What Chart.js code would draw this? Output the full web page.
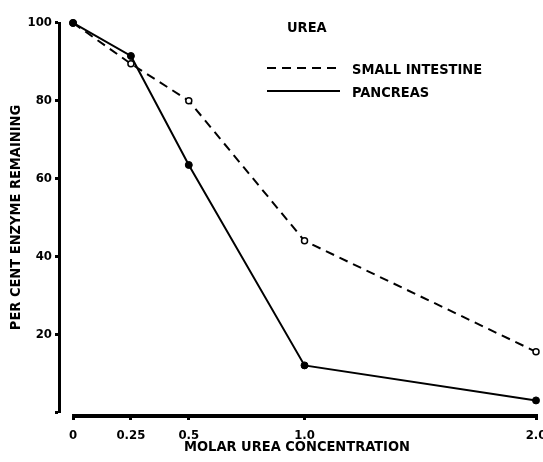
<!DOCTYPE html>
<html>
<head>
<meta charset="utf-8">
<script src="https://cdn.jsdelivr.net/npm/chart.js@4/dist/chart.umd.min.js"></script>
<style>
  body { margin: 0; background: #fff; }
  #wrap { width: 543px; height: 462px; }
</style>
</head>
<body>
<div id="wrap"><canvas id="ureaChart"></canvas></div>
<script>
const concentrations = [0, 0.25, 0.5, 1.0, 2.0];
const smallIntestine = [100, 89.5, 80, 44, 15.5];
const pancreas = [100, 91.5, 63.5, 12, 3];
const xTickValues = [0, 0.25, 0.5, 1.0, 2.0];
const xTickLabels = ['0', '0.25', '0.5', '1.0', '2.0'];
const yTickValues = [0, 20, 40, 60, 80, 100];

const FONT = '"DejaVu Sans Condensed", "DejaVu Sans", sans-serif';

const toPoints = (ys) => ys.map((y, i) => ({ x: concentrations[i], y: y }));

// draws the separated axis lines and the key in the upper right
const axesAndKey = {
    id: 'axesAndKey',
    afterDraw(chart) {
        const { ctx, chartArea, scales } = chart;
        ctx.save();
        ctx.strokeStyle = '#000';
        ctx.lineCap = 'butt';

        ctx.lineWidth = 3;
        ctx.beginPath();
        ctx.moveTo(chartArea.left + 1.5, scales.y.getPixelForValue(100) - 1);
        ctx.lineTo(chartArea.left + 1.5, scales.y.getPixelForValue(0) + 1);
        ctx.stroke();

        ctx.lineWidth = 4;
        ctx.beginPath();
        ctx.moveTo(scales.x.getPixelForValue(0) - 1, chartArea.bottom);
        ctx.lineTo(chartArea.right + 2, chartArea.bottom);
        ctx.stroke();

        ctx.fillStyle = '#000';
        ctx.font = 'bold 14.5px ' + FONT;
        ctx.textBaseline = 'middle';
        ctx.textAlign = 'left';
        ctx.fillText('UREA', 287, 28);

        const keyOrder = [0, 1];
        keyOrder.forEach((di, i) => {
            const ds = chart.data.datasets[di];
            const y = 68 + i * 23;
            ctx.lineWidth = 2;
            ctx.setLineDash(ds.borderDash || []);
            ctx.beginPath();
            ctx.moveTo(267, y);
            ctx.lineTo(340, y);
            ctx.stroke();
            ctx.setLineDash([]);
            ctx.fillText(ds.label, 352, y + 2);
        });
        ctx.restore();
    }
};

new Chart(document.getElementById('ureaChart'), {
    type: 'line',
    data: {
        datasets: [
            {
                label: 'SMALL INTESTINE',
                data: toPoints(smallIntestine),
                borderColor: '#000',
                borderWidth: 2,
                borderDash: [9, 6],
                pointRadius: 3,
                pointBorderWidth: 1.5,
                pointBackgroundColor: '#fff',
                pointBorderColor: '#000',
                order: 1,
                clip: false
            },
            {
                label: 'PANCREAS',
                data: toPoints(pancreas),
                borderColor: '#000',
                borderWidth: 2,
                pointRadius: 3.5,
                pointBorderWidth: 1,
                pointBackgroundColor: '#000',
                pointBorderColor: '#000',
                order: 0,
                clip: false
            }
        ]
    },
    options: {
        responsive: true,
        maintainAspectRatio: false,
        animation: false,
        layout: { padding: { top: 19, right: 0, bottom: 0, left: 0 } },
        plugins: {
            legend: { display: false },
            tooltip: { enabled: false }
        },
        scales: {
            x: {
                type: 'linear',
                min: -0.065,
                max: 2.0,
                afterFit: (scale) => {
                    scale.height = 46;
                    scale.paddingRight = 7;
                    scale.paddingLeft = 0;
                },
                afterBuildTicks: (scale) => { scale.ticks = xTickValues.map(v => ({ value: v })); },
                border: { display: false },
                grid: { drawOnChartArea: false, color: '#000', lineWidth: 3, tickLength: 4 },
                ticks: {
                    autoSkip: false,
                    maxRotation: 0,
                    padding: 8,
                    color: '#000',
                    font: { family: FONT, size: 13, weight: 'bold' },
                    callback: (v) => {
                        const i = xTickValues.indexOf(v);
                        return i >= 0 ? xTickLabels[i] : '';
                    }
                },
                title: {
                    display: true,
                    text: 'MOLAR UREA CONCENTRATION',
                    color: '#000',
                    font: { family: FONT, size: 14.5, weight: 'bold' },
                    padding: { top: 0, bottom: 6 }
                }
            },
            y: {
                min: -1,
                max: 101,
                afterFit: (scale) => { scale.width = 58; },
                afterBuildTicks: (scale) => { scale.ticks = yTickValues.map(v => ({ value: v })); },
                border: { display: false },
                grid: { drawOnChartArea: false, color: '#000', lineWidth: 3, tickLength: 3 },
                ticks: {
                    padding: 3,
                    color: '#000',
                    font: { family: FONT, size: 13, weight: 'bold' },
                    callback: (v) => v === 0 ? '' : String(v)
                },
                title: {
                    display: true,
                    text: 'PER CENT ENZYME REMAINING',
                    color: '#000',
                    font: { family: FONT, size: 14.5, weight: 'bold' },
                    padding: { top: 8, bottom: 0 }
                }
            }
        }
    },
    plugins: [axesAndKey]
});
</script>
</body>
</html>
